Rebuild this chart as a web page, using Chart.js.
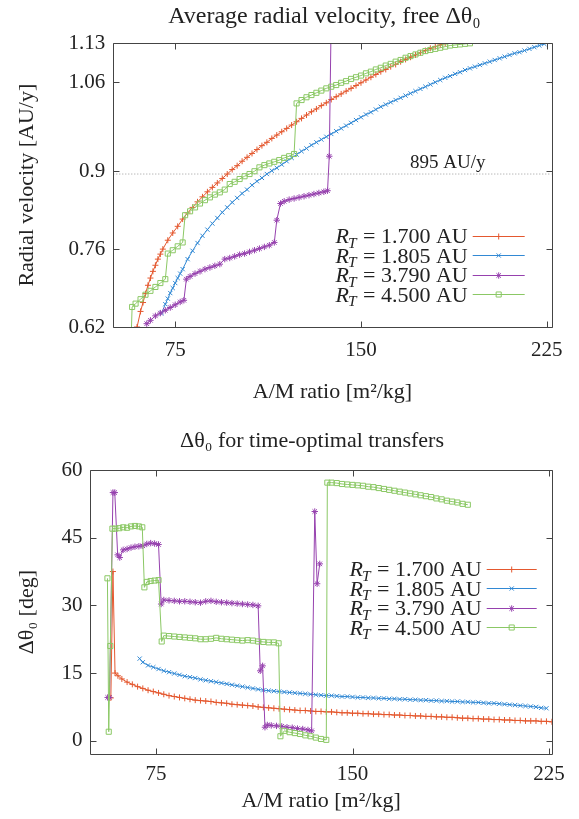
<!DOCTYPE html>
<html lang="en">
  <head>
    <meta charset="UTF-8" />
    <title>Average radial velocity and delta theta</title>
    <script src="https://cdn.jsdelivr.net/npm/chart.js@4"></script>
    <style>
      body {
        margin: 0;
        background: #fff;
      }
      canvas {
        display: block;
      }
    </style>
  </head>
  <body>
    <canvas id="vel-chart" width="579" height="410"></canvas>
    <canvas id="dth-chart" width="579" height="409"></canvas>

    <script>
      // Legend radii (AU) and axis ticks
      const radii = ["1.700", "1.805", "3.790", "4.500"];
      const amTicks = [75, 150, 225];
      const velTicks = [0.62, 0.76, 0.9, 1.06, 1.13];
      const dthTicks = [0, 15, 30, 45, 60];
      const refVel = 0.895;

      // Top chart: average radial velocity [AU/y] vs A/M ratio
      const velAM_170 = [59.6, 61, 62, 63, 64, 65, 66, 67, 68, 69, 70,
        72, 74, 76, 78, 80, 82, 84, 86, 88, 90,
        92, 94, 96, 98, 100, 102, 104, 106, 108, 110,
        112, 114, 116, 118, 120, 122, 124, 126, 128, 130,
        132, 134, 136, 138, 140, 142, 144, 146, 148, 150,
        152, 154, 156, 158, 160, 162, 164, 166, 168, 170,
        172, 174, 176, 178, 180, 182, 184];
      const vel_170 = [0.620, 0.648, 0.664, 0.680, 0.695, 0.708, 0.720, 0.731, 0.742, 0.751, 0.760,
        0.776, 0.789, 0.801, 0.814, 0.825, 0.835, 0.845, 0.854, 0.863, 0.871,
        0.879, 0.887, 0.895, 0.903, 0.910, 0.918, 0.925, 0.932, 0.939, 0.946,
        0.952, 0.959, 0.965, 0.971, 0.977, 0.983, 0.989, 0.995, 1.001, 1.007,
        1.012, 1.018, 1.023, 1.029, 1.034, 1.039, 1.044, 1.049, 1.054, 1.059,
        1.064, 1.069, 1.074, 1.079, 1.083, 1.088, 1.092, 1.097, 1.101, 1.105,
        1.109, 1.113, 1.117, 1.121, 1.124, 1.127, 1.130];

      const velAM_1805 = [69.5, 71, 72, 73, 74, 75, 76, 77, 78,
        80, 82, 84, 86, 88, 90, 92, 94, 96, 98,
        100, 102, 104, 106, 108, 110, 112, 114, 116, 118,
        120, 122, 124, 126, 128, 130, 132, 134, 136, 138,
        140, 142, 144, 146, 148, 150, 152, 154, 156, 158,
        160, 162, 164, 166, 168, 170, 172, 174, 176, 178,
        180, 182, 184, 186, 188, 190, 192, 194, 196, 198,
        200, 202, 204, 206, 208, 210, 212, 214, 216, 218,
        220, 222, 224];
      const vel_1805 = [0.645, 0.661, 0.671, 0.681, 0.690, 0.699, 0.708, 0.716, 0.724,
        0.742, 0.757, 0.771, 0.784, 0.795, 0.806, 0.816, 0.826, 0.835, 0.844,
        0.852, 0.860, 0.867, 0.875, 0.882, 0.888, 0.895, 0.901, 0.906, 0.912,
        0.918, 0.924, 0.930, 0.936, 0.941, 0.947, 0.952, 0.957, 0.962, 0.967,
        0.972, 0.977, 0.982, 0.987, 0.992, 0.997, 1.002, 1.006, 1.011, 1.016,
        1.020, 1.024, 1.028, 1.032, 1.036, 1.040, 1.044, 1.048, 1.052, 1.056,
        1.060, 1.064, 1.068, 1.071, 1.075, 1.078, 1.082, 1.085, 1.088, 1.091,
        1.094, 1.097, 1.100, 1.103, 1.106, 1.109, 1.112, 1.114, 1.117, 1.120,
        1.123, 1.126, 1.129];

      const velAM_379 = [63.5, 65, 67, 69, 71, 73, 75, 77, 78.5,
        79.5, 81, 83, 85, 87, 89, 91, 93,
        95, 97, 99, 101, 103, 105, 107, 109, 111, 113, 115,
        116, 117.5,
        119, 121, 123, 125, 127, 129, 131, 133, 135, 136.5,
        137.2, 138.2];
      const vel_379 = [0.626, 0.632, 0.640, 0.645, 0.650, 0.655, 0.660, 0.665, 0.668,
        0.706, 0.711, 0.716, 0.720, 0.724, 0.727, 0.730, 0.733,
        0.742, 0.744, 0.747, 0.750, 0.752, 0.755, 0.758, 0.761, 0.764, 0.767, 0.772,
        0.812, 0.842,
        0.846, 0.849, 0.851, 0.853, 0.855, 0.857, 0.859, 0.861, 0.863, 0.865,
        0.927, 1.25];

      const velAM_450 = [57.2, 57.6, 59, 61, 63, 65, 67, 69, 71,
        72, 74, 76, 78,
        79, 81, 83, 85, 87, 89, 91, 93, 95,
        97, 99, 101, 103, 105, 107,
        109, 111, 113, 115, 117, 119, 121, 123,
        124, 126, 128, 130, 132, 134, 136, 138, 140, 142,
        144, 146, 148, 150, 152, 154, 156, 158, 160, 162,
        164, 166, 168, 170, 172, 174, 176, 178, 180, 182,
        184, 186, 188, 190, 192, 194];
      const vel_450 = [0.600, 0.656, 0.662, 0.670, 0.678, 0.685, 0.692, 0.699, 0.706,
        0.752, 0.758, 0.765, 0.772,
        0.821, 0.828, 0.835, 0.842, 0.848, 0.853, 0.858, 0.862, 0.867,
        0.877, 0.881, 0.886, 0.891, 0.895, 0.900,
        0.907, 0.911, 0.914, 0.917, 0.920, 0.924, 0.927, 0.931,
        1.022, 1.028, 1.033, 1.037, 1.041, 1.045, 1.049, 1.052, 1.055, 1.059,
        1.062, 1.066, 1.069, 1.072, 1.076, 1.079, 1.083, 1.086, 1.090, 1.093,
        1.097, 1.100, 1.104, 1.107, 1.110, 1.113, 1.116, 1.118, 1.120, 1.122,
        1.124, 1.126, 1.127, 1.128, 1.129, 1.130];

      // Bottom chart: delta theta_0 [deg] vs A/M ratio
      const dthAM_170 = [57.8, 58.6, 59.4, 60.5,
        62, 64, 66, 68, 70, 72, 74, 76, 78, 80,
        82, 84, 86, 88, 90, 92, 94, 96, 98, 100,
        102, 104, 106, 108, 110, 112, 114, 116, 118, 120,
        122, 124, 126, 128, 130, 132, 134, 136, 138, 140,
        142, 144, 146, 148, 150, 152, 154, 156, 158, 160,
        162, 164, 166, 168, 170, 172, 174, 176, 178, 180,
        182, 184, 186, 188, 190, 192, 194, 196, 198, 200,
        202, 204, 206, 208, 210, 212, 214, 216, 218, 220,
        222, 224, 226];
      const dth_170 = [9.5, 37.5, 15.0, 14.4,
        13.7, 13.0, 12.5, 12.0, 11.6, 11.2, 10.9, 10.6, 10.3, 10.0,
        9.8, 9.6, 9.4, 9.2, 9.0, 8.9, 8.8, 8.7, 8.5, 8.4,
        8.3, 8.1, 8.0, 7.9, 7.8, 7.7, 7.5, 7.4, 7.3, 7.2,
        7.1, 7.0, 6.9, 6.8, 6.7, 6.7, 6.6, 6.5, 6.5, 6.4,
        6.4, 6.3, 6.2, 6.2, 6.1, 6.1, 6.0, 6.0, 5.9, 5.9,
        5.8, 5.8, 5.7, 5.7, 5.6, 5.6, 5.5, 5.5, 5.4, 5.4,
        5.3, 5.3, 5.2, 5.2, 5.1, 5.0, 5.0, 4.9, 4.9, 4.8,
        4.8, 4.7, 4.7, 4.6, 4.6, 4.5, 4.5, 4.4, 4.4, 4.4,
        4.3, 4.3, 4.2];

      const dthAM_1805 = [68.8,
        70, 72, 74, 76, 78, 80, 82, 84, 86, 88,
        90, 92, 94, 96, 98, 100, 102, 104, 106, 108,
        110, 112, 114, 116, 118, 120, 122, 124, 126, 128,
        130, 132, 134, 136, 138, 140, 142, 144, 146, 148,
        150, 152, 154, 156, 158, 160, 162, 164, 166, 168,
        170, 172, 174, 176, 178, 180, 182, 184, 186, 188,
        190, 192, 194, 196, 198, 200, 202, 204, 206, 208,
        210, 212, 214, 216, 218, 220, 222, 224];
      const dth_1805 = [18.2,
        17.4, 16.7, 16.3, 15.9, 15.5, 15.2, 14.9, 14.6, 14.3, 14.1,
        13.9, 13.6, 13.4, 13.2, 13.0, 12.8, 12.6, 12.4, 12.2, 12.0,
        11.8, 11.6, 11.4, 11.2, 11.1, 11.0, 10.9, 10.8, 10.7, 10.6,
        10.5, 10.4, 10.3, 10.2, 10.1, 10.0, 10.0, 9.9, 9.8, 9.8,
        9.7, 9.6, 9.6, 9.5, 9.5, 9.4, 9.4, 9.3, 9.3, 9.2,
        9.2, 9.1, 9.1, 9.0, 9.0, 8.9, 8.9, 8.8, 8.8, 8.7,
        8.7, 8.6, 8.6, 8.5, 8.5, 8.4, 8.3, 8.3, 8.2, 8.1,
        8.0, 7.9, 7.8, 7.7, 7.6, 7.5, 7.3, 7.2];

      const dthAM_379 = [56.6, 57.3, 58.6, 59.3, 60.4, 61.2, 62.5, 64,
        65.5, 67, 68.5, 70, 71.5, 73, 74.5, 76,
        77, 78,
        80, 82, 84, 86, 88, 90, 92, 94, 96,
        98, 100, 102, 104, 106, 108, 110, 112, 114,
        114.8, 115.7,
        116.6, 117.5, 119, 121, 123, 125, 127, 129, 131, 133, 134.4,
        135.6, 136.5, 137.5];
      const dth_379 = [9.6, 9.6, 55.0, 55.0, 41.2, 40.6, 42.3, 42.5,
        42.8, 43.0, 43.1, 43.2, 43.6, 43.8, 43.7, 43.5,
        30.3, 31.2,
        31.1, 31.0, 30.9, 30.9, 30.8, 30.7, 30.6, 30.9, 31.0,
        30.8, 30.7, 30.6, 30.5, 30.4, 30.3, 30.2, 30.1, 29.9,
        15.5, 16.6,
        3.0, 3.5, 3.4, 3.3, 3.2, 3.0, 2.9, 2.7, 2.6, 2.4, 2.2,
        50.8, 34.8, 39.2];

      const dthAM_450 = [56.5, 57.0, 57.6, 58.4, 59.5, 61, 62.5, 64, 65.5, 67, 68.5, 69.8,
        70.6, 71.5, 73, 74.5, 76,
        77.2, 78,
        80, 82, 84, 86, 88, 90, 92, 94, 96, 98,
        100, 102, 104, 106, 108, 110, 112, 114, 116, 118,
        120, 121.8,
        122.5, 124, 126, 128, 130, 132, 134, 136, 138, 140,
        140.4, 142, 144, 146, 148, 150, 152, 154, 156, 158,
        160, 162, 164, 166, 168, 170, 172, 174, 176, 178,
        180, 182, 184, 186, 188, 190, 192, 194];
      const dth_450 = [36.0, 2.0, 21.0, 47.0, 47.0, 47.1, 47.3, 47.2, 47.5, 47.6, 47.5, 47.3,
        34.0, 35.2, 35.4, 35.5, 35.6,
        22.0, 23.3,
        23.2, 23.1, 23.0, 22.9, 22.8, 22.7, 22.5, 22.5, 22.6, 22.8,
        22.6, 22.5, 22.4, 22.3, 22.2, 22.3, 22.2, 22.0, 21.9, 21.8,
        21.8, 21.6,
        1.0, 2.2, 1.9, 1.7, 1.5, 1.2, 1.0, 0.7, 0.4, 0.2,
        57.2, 57.2, 57.1, 56.9, 56.8, 56.7, 56.6, 56.5, 56.3, 56.2,
        56.0, 55.8, 55.6, 55.4, 55.2, 55.0, 54.8, 54.6, 54.4, 54.2,
        54.0, 53.7, 53.5, 53.2, 53.0, 52.8, 52.5, 52.3];

      const serif = '"Liberation Serif", "Times New Roman", serif';
      Chart.defaults.font.family = serif;
      Chart.defaults.color = "#222";

      const colors = ["#e4582f", "#3289d4", "#9641ae", "#8bc865"];
      const markers = [
        { pointStyle: "cross", pointRadius: 3 },
        { pointStyle: "crossRot", pointRadius: 3 },
        { pointStyle: "star", pointRadius: 3.2 },
        { pointStyle: "rect", pointRadius: 3.6 },
      ];

      function toPoints(xs, ys) {
        return xs.map((x, i) => ({ x: x, y: ys[i] }));
      }

      function series(xs, ys, i) {
        return {
          label: radii[i],
          data: toPoints(xs, ys),
          borderColor: colors[i],
          backgroundColor: "rgba(0,0,0,0)",
          pointBorderColor: colors[i],
          pointBackgroundColor: "rgba(0,0,0,0)",
          borderWidth: 1,
          pointBorderWidth: 1,
          pointStyle: markers[i].pointStyle,
          pointRadius: markers[i].pointRadius,
          tension: 0,
          order: 3 - i,
        };
      }

      // gnuplot-like box with inward ticks on all four sides
      const frame = {
        id: "frame",
        afterDatasetsDraw(chart) {
          const { ctx, chartArea: a, scales } = chart;
          const L = Math.round(a.left) + 0.5, R = Math.round(a.right) + 0.5;
          const T = Math.round(a.top) + 0.5, B = Math.round(a.bottom) + 0.5;
          ctx.save();
          ctx.strokeStyle = "#444";
          ctx.lineWidth = 1;
          ctx.beginPath();
          ctx.rect(L, T, R - L, B - T);
          scales.x.ticks.forEach((t) => {
            const px = Math.round(scales.x.getPixelForValue(t.value)) + 0.5;
            ctx.moveTo(px, B); ctx.lineTo(px, B - 6);
            ctx.moveTo(px, T); ctx.lineTo(px, T + 6);
          });
          scales.y.ticks.forEach((t) => {
            const py = Math.round(scales.y.getPixelForValue(t.value)) + 0.5;
            ctx.moveTo(L, py); ctx.lineTo(L + 6, py);
            ctx.moveTo(R, py); ctx.lineTo(R - 6, py);
          });
          ctx.stroke();
          ctx.restore();
        },
      };

      // plot title centred over the plot box
      const heading = {
        id: "heading",
        afterDraw(chart, args, opts) {
          const { ctx, chartArea: a } = chart;
          ctx.save();
          ctx.font = opts.size + "px " + serif;
          ctx.fillStyle = "#222";
          ctx.textAlign = "center";
          ctx.textBaseline = "middle";
          ctx.fillText(opts.text, (a.left + a.right) / 2 + opts.dx, opts.y);
          ctx.restore();
        },
      };

      // key with "R_T = x AU" text left of the line sample
      const key = {
        id: "key",
        afterDraw(chart, args, opts) {
          const { ctx, chartArea: a } = chart;
          const size = opts.size;
          const textRight = a.right - opts.textRight;
          const x1 = a.right - opts.lineStart, x2 = a.right - opts.lineEnd;
          let row = 0;
          chart.data.datasets.forEach((ds) => {
            if (ds.isRef) return;
            const yc = a.top + opts.top + row * opts.step;
            const base = yc + size * 0.34;
            const rest = " = " + ds.label + " AU";
            ctx.save();
            ctx.fillStyle = "#222";
            ctx.textBaseline = "alphabetic";
            ctx.textAlign = "left";
            ctx.font = size + "px " + serif;
            const wRest = ctx.measureText(rest).width;
            ctx.font = "italic " + size * 0.7 + "px " + serif;
            const wT = ctx.measureText("T").width;
            ctx.font = "italic " + size + "px " + serif;
            const wR = ctx.measureText("R").width;
            let x = textRight - wRest - wT - wR;
            ctx.fillText("R", x, base);
            x += wR;
            ctx.font = "italic " + size * 0.7 + "px " + serif;
            ctx.fillText("T", x - 1, base + size * 0.2);
            x += wT;
            ctx.font = size + "px " + serif;
            ctx.fillText(rest, x, base);

            ctx.strokeStyle = ds.borderColor;
            ctx.lineWidth = 1;
            ctx.beginPath();
            ctx.moveTo(x1, Math.round(yc) + 0.5);
            ctx.lineTo(x2, Math.round(yc) + 0.5);
            ctx.stroke();
            ctx.fillStyle = "rgba(0,0,0,0)";
            Chart.helpers.drawPoint(
              ctx,
              { pointStyle: ds.pointStyle, radius: ds.pointRadius, borderWidth: 1, rotation: 0 },
              (x1 + x2) / 2,
              Math.round(yc) + 0.5
            );
            ctx.restore();
            row++;
          });
        },
      };

      const refLabel = {
        id: "refLabel",
        afterDatasetsDraw(chart) {
          const { ctx, scales } = chart;
          ctx.save();
          ctx.font = "19px " + serif;
          ctx.fillStyle = "#222";
          ctx.textAlign = "center";
          ctx.textBaseline = "middle";
          ctx.fillText("895 AU/y", scales.x.getPixelForValue(185), scales.y.getPixelForValue(refVel) - 11);
          ctx.restore();
        },
      };

      function axisX(max, height, tickPad) {
        return {
          type: "linear",
          min: 50,
          max: max,
          afterBuildTicks: (s) => { s.ticks = amTicks.map((v) => ({ value: v })); },
          afterFit: (s) => { s.height = height; },
          grid: { display: false, drawTicks: false },
          border: { display: false },
          ticks: { font: { size: 21 }, padding: tickPad, maxRotation: 0, color: "#222" },
          title: { display: true, text: "A/M ratio [m²/kg]", font: { size: 22 }, padding: { top: 0, bottom: 5 }, color: "#222" },
        };
      }

      function axisY(min, max, tickList, width, title) {
        return {
          type: "linear",
          min: min,
          max: max,
          afterBuildTicks: (s) => { s.ticks = tickList.map((v) => ({ value: v })); },
          afterFit: (s) => { s.width = width; },
          grid: { display: false, drawTicks: false },
          border: { display: false },
          ticks: { font: { size: 21 }, padding: 8, color: "#222", callback: (v) => String(v) },
          title: { display: true, text: title, font: { size: 22 }, padding: { top: 14, bottom: 0 }, color: "#222" },
        };
      }

      new Chart(document.getElementById("vel-chart"), {
        type: "line",
        data: {
          datasets: [
            series(velAM_170, vel_170, 0),
            series(velAM_1805, vel_1805, 1),
            series(velAM_379, vel_379, 2),
            series(velAM_450, vel_450, 3),
            {
              isRef: true,
              data: toPoints([50, 227], [refVel, refVel]),
              borderColor: "#9a9a9a",
              borderWidth: 1,
              borderDash: [1, 2],
              pointRadius: 0,
              order: 10,
            },
          ],
        },
        options: {
          responsive: false,
          animation: false,
          layout: { padding: { left: 0, right: 27.3, top: 43.3, bottom: 0 } },
          scales: {
            x: axisX(227, 83, 11),
            y: axisY(0.62, 1.13, velTicks, 113.3, "Radial velocity [AU/y]"),
          },
          plugins: {
            legend: { display: false },
            tooltip: { enabled: false },
            heading: { text: "Average radial velocity, free Δθ₀", size: 24, y: 17, dx: -8 },
            key: { size: 22, textRight: 84, lineStart: 79, lineEnd: 27, top: 192.4, step: 19.5 },
          },
        },
        plugins: [frame, key, refLabel, heading],
      });

      new Chart(document.getElementById("dth-chart"), {
        type: "line",
        data: {
          datasets: [
            series(dthAM_170, dth_170, 0),
            series(dthAM_1805, dth_1805, 1),
            series(dthAM_379, dth_379, 2),
            series(dthAM_450, dth_450, 3),
          ],
        },
        options: {
          responsive: false,
          animation: false,
          layout: { padding: { left: 0, right: 27.3, top: 60, bottom: 0 } },
          scales: {
            x: axisX(226, 64.7, 8),
            y: axisY(-3, 60, dthTicks, 90.4, "Δθ₀ [deg]"),
          },
          plugins: {
            legend: { display: false },
            tooltip: { enabled: false },
            heading: { text: "Δθ₀ for time-optimal transfers", size: 22, y: 31, dx: -9 },
            key: { size: 22, textRight: 70, lineStart: 65, lineEnd: 15, top: 99, step: 19.4 },
          },
        },
        plugins: [frame, key, heading],
      });
    </script>
  </body>
</html>
